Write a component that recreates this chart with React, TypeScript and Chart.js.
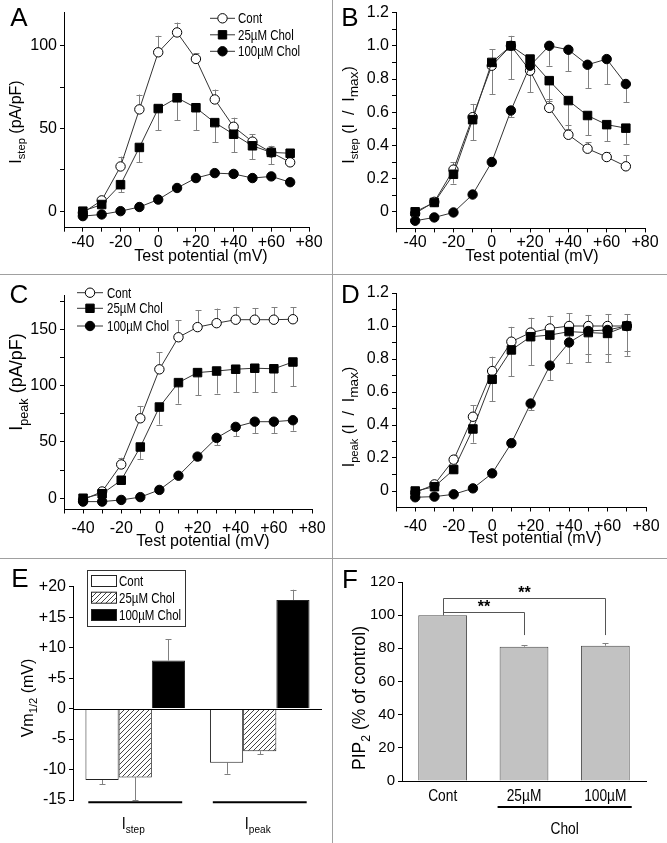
import React, { useEffect, useRef } from 'react';
import { Chart, registerables } from 'chart.js';
Chart.register(...registerables);

const FONT = '"Liberation Sans", Arial, Helvetica, sans-serif';
Chart.defaults.font.family = FONT;
const NARROW_SCALE = 0.82;

// ---------- data ----------
const potentials = [-40, -30, -20, -10, 0, 10, 20, 30, 40, 50, 60, 70];
const seriesNames = ['Cont', '25µM Chol', '100µM Chol'];
const xTickValues = [-50, -40, -30, -20, -10, 0, 10, 20, 30, 40, 50, 60, 70, 80];

// Panel A: Istep (pA/pF)
const aCont = [-1, 6.5, 27, 61.5, 96, 108, 92, 67.5, 51, 42, 35.5, 29.5];
const aContErr = [0, 1.5, 6, 9, 10, 6, 3.5, 6, 5.5, 4.5, 4, 0];
const a25 = [0, 4, 16, 38.5, 62, 68.5, 62.5, 53.5, 46.5, 39.5, 35.5, 35];
const a25Err = [0, 0, 4.5, 9, 13, 13.5, 13.5, 12, 11, 8, 7, 0];
const a100 = [-3, -2, 0, 2.5, 7, 14, 20, 23, 22.5, 20, 21, 17.5];
const a100Err = [0, 0, 0, 0, 0.5, 1, 1, 1, 1, 1, 1, 1];
const aYTicks = [0, 25, 50, 75, 100];

// Panel B: Istep (I / Imax)
const bCont = [-0.01, 0.06, 0.254, 0.57, 0.88, 1.0, 0.85, 0.626, 0.464, 0.38, 0.33, 0.274];
const bContErr = [0, 0.01, 0.046, 0.08, 0.1, 0.06, 0.05, 0.054, 0.056, 0.04, 0.03, 0.066];
const b25 = [0, 0.056, 0.226, 0.555, 0.9, 1.0, 0.92, 0.79, 0.67, 0.58, 0.525, 0.504];
const b25Err = [0, 0.01, 0.056, 0.125, 0.19, 0.2, 0.2, 0.12, 0.17, 0.12, 0.1, 0.095];
const b100 = [-0.054, -0.034, -0.004, 0.104, 0.3, 0.61, 0.88, 1.0, 0.976, 0.886, 0.92, 0.77];
const b100Err = [0, 0, 0, 0, 0.01, 0.04, 0.05, 0.12, 0.13, 0.14, 0.15, 0.11];
const normYTicks = [0, 0.1, 0.2, 0.3, 0.4, 0.5, 0.6, 0.7, 0.8, 0.9, 1.0, 1.1, 1.2];

// Panel C: Ipeak (pA/pF)
const cCont = [-1.5, 6, 30, 71, 114.5, 143, 152, 155.5, 158.6, 158.6, 158.6, 159];
const cContErr = [0, 1, 6, 11, 15, 15, 15, 13, 11.4, 10.4, 11, 10.6];
const c25 = [0, 4, 16, 45.5, 81, 102.7, 111.6, 113, 114.6, 115.5, 115, 121];
const c25Err = [0, 0, 2, 10.5, 15.5, 18.7, 20, 20, 20.6, 21.5, 21, 21.3];
const c100 = [-3, -3, -1.5, 1, 7.4, 20, 37, 53.6, 63.4, 68, 68, 69.3];
const c100Err = [0, 0, 0, 0, 1, 2, 3, 6.6, 8.4, 10, 10, 9.3];
const cYTicks = [0, 25, 50, 75, 100, 125, 150, 175];

// Panel D: Ipeak (I / Imax)
const dCont = [-0.01, 0.04, 0.19, 0.45, 0.727, 0.905, 0.96, 0.985, 1.0, 1.0, 1.0, 1.0];
const dContErr = [0, 0.01, 0.03, 0.07, 0.087, 0.09, 0.09, 0.077, 0.077, 0.067, 0.073, 0.073];
const d25 = [0, 0.026, 0.13, 0.376, 0.677, 0.855, 0.935, 0.945, 0.966, 0.96, 0.955, 1.0];
const d25Err = [0, 0.01, 0.02, 0.083, 0.132, 0.158, 0.171, 0.177, 0.188, 0.18, 0.175, 0.18];
const d100 = [-0.038, -0.034, -0.02, 0.016, 0.107, 0.29, 0.53, 0.76, 0.9, 0.97, 0.976, 1.0];
const d100Err = [0, 0, 0, 0, 0.01, 0.02, 0.04, 0.087, 0.126, 0.14, 0.146, 0.15];

// Panel E: Vm1/2 (mV)
const eGroups = ['Istep', 'Ipeak'];
const eCont = [-11.7, -8.9];
const eContErr = [0.7, 1.8];
const e25 = [-11.3, -7.0];
const e25Err = [3.7, 0.5];
const e100 = [7.9, 17.8];
const e100Err = [3.5, 1.7];
const eYTicks = [-15, -10, -5, 0, 5, 10, 15, 20];

// Panel F: PIP2 (% of control)
const fCats = ['Cont', '25µM', '100µM'];
const fVals = [100, 81, 81.6];
const fErr = [0, 1, 1.6];
const fYTicks = [0, 10, 20, 30, 40, 50, 60, 70, 80, 90, 100, 110, 120];
const fSig = [{ from: 0, to: 2, level: 110.5, drop: 88, label: '**' }, { from: 0, to: 1, level: 102, drop: 88, label: '**' }];

// ---------- helpers ----------
type Seg = { t: string; sub?: boolean; k?: number };

function drawRich(
  ctx: CanvasRenderingContext2D, segs: Seg[], x: number, y: number, size: number,
  align: 'left' | 'center' | 'right' = 'center', rot = false, weight = 'normal', hscale = 1, color = '#000'
) {
  ctx.save();
  const segSize = (s: Seg) => (s.sub ? size * (s.k || 0.7) : size);
  const widths = segs.map((s) => {
    ctx.font = `${weight} ${segSize(s)}px ${FONT}`;
    return ctx.measureText(s.t).width;
  });
  const total = widths.reduce((p, q) => p + q, 0);
  ctx.translate(x, y);
  if (rot) ctx.rotate(-Math.PI / 2);
  ctx.scale(hscale, 1);
  let cx = align === 'center' ? -total / 2 : align === 'right' ? -total : 0;
  const base = size * 0.36;
  ctx.fillStyle = color;
  ctx.textBaseline = 'alphabetic';
  ctx.textAlign = 'left';
  segs.forEach((s, i) => {
    ctx.font = `${weight} ${segSize(s)}px ${FONT}`;
    ctx.fillText(s.t, cx, base + (s.sub ? size * 0.28 : 0));
    cx += widths[i];
  });
  ctx.restore();
}

function drawMarker(ctx: CanvasRenderingContext2D, x: number, y: number, style: string, fill: string) {
  ctx.save();
  ctx.fillStyle = fill;
  ctx.strokeStyle = '#000';
  ctx.lineWidth = 1;
  ctx.beginPath();
  if (style === 'rect') ctx.rect(x - 4.2, y - 4.2, 8.4, 8.4);
  else ctx.arc(x, y, 4.7, 0, Math.PI * 2);
  ctx.fill();
  ctx.stroke();
  ctx.restore();
}

const markerStyles: [string, string][] = [['circle', '#fff'], ['rect', '#000'], ['circle', '#000']];

function drawLineLegend(ctx: CanvasRenderingContext2D, x1: number, x2: number, tx: number, ys: number[]) {
  ys.forEach((y, i) => {
    ctx.save();
    ctx.strokeStyle = '#333';
    ctx.lineWidth = 1;
    ctx.beginPath();
    ctx.moveTo(x1, y);
    ctx.lineTo(x2, y);
    ctx.stroke();
    ctx.restore();
    drawMarker(ctx, (x1 + x2) / 2, y, markerStyles[i][0], markerStyles[i][1]);
    drawRich(ctx, [{ t: seriesNames[i] }], tx, y, 14, 'left', false, 'normal', NARROW_SCALE);
  });
}

function errorBarPlugin(errs: number[][], dirs: (number | 'sign')[]) {
  return {
    id: 'errbars',
    beforeDatasetsDraw(chart: any) {
      const ctx = chart.ctx as CanvasRenderingContext2D;
      const ys = chart.scales.y;
      ctx.save();
      ctx.strokeStyle = '#808080';
      ctx.lineWidth = 1;
      errs.forEach((err, di) => {
        const meta = chart.getDatasetMeta(di);
        const ds = chart.data.datasets[di];
        meta.data.forEach((el: any, i: number) => {
          const e = err[i];
          if (!e) return;
          const raw = ds.data[i];
          const v = typeof raw === 'number' ? raw : raw.y;
          const d = dirs[di] === 'sign' ? (v >= 0 ? 1 : -1) : (dirs[di] as number);
          const yEnd = ys.getPixelForValue(v + d * e);
          const x = Math.round(el.x) + 0.5;
          ctx.beginPath();
          ctx.moveTo(x, el.y);
          ctx.lineTo(x, yEnd);
          ctx.moveTo(x - 3, Math.round(yEnd) + 0.5);
          ctx.lineTo(x + 3, Math.round(yEnd) + 0.5);
          ctx.stroke();
        });
      });
      ctx.restore();
    },
  };
}

function decor(fn: (chart: any, ctx: CanvasRenderingContext2D) => void) {
  return { id: 'decor', afterDraw(chart: any) { fn(chart, chart.ctx); } };
}

function lineDataset(i: number, ys: number[]) {
  const [style, fill] = markerStyles[i];
  return {
    label: seriesNames[i],
    data: potentials.map((x, k) => ({ x, y: ys[k] })),
    borderColor: '#333',
    borderWidth: 1,
    pointStyle: style,
    pointRadius: style === 'rect' ? 6 : 4.7,
    pointBackgroundColor: fill,
    pointBorderColor: '#000',
    pointBorderWidth: 1,
    tension: 0,
    fill: false,
    order: i === 1 ? 0 : i === 2 ? 1 : 2,
  };
}

const tickFont = (size = 16) => ({ size, family: FONT });

function gridOpts() {
  return { drawOnChartArea: false, drawTicks: true, tickLength: 4, tickColor: '#000', tickWidth: 1 };
}

const fmtX = (v: number) => (v % 20 === 0 ? (v > 0 ? '+' + v : String(v)) : '');
const fmt50 = (v: number) => (v % 50 === 0 ? String(v) : '');
const fmtNorm = (v: number) => {
  const r = Math.round(v * 10);
  return r % 2 === 0 ? (r === 0 ? '0' : (r / 10).toFixed(1)) : '';
};

function lineConfig(p: {
  datasets: any[]; errs: number[][]; yMin: number; yMax: number; yTicks: number[]; yFmt: (v: number) => string;
  pad: any; yWidth: number; xHeight: number; xPad: number; draw: (c: any, ctx: CanvasRenderingContext2D) => void;
}) {
  return {
    type: 'line',
    data: { datasets: p.datasets },
    options: {
      animation: false,
      responsive: false,
      events: [],
      layout: { padding: p.pad },
      plugins: { legend: { display: false }, tooltip: { enabled: false } },
      scales: {
        x: {
          type: 'linear', min: -50, max: 80,
          afterBuildTicks: (s: any) => { s.ticks = xTickValues.map((v) => ({ value: v })); },
          afterFit: (s: any) => { s.height = p.xHeight; },
          grid: gridOpts(),
          border: { display: true, color: '#000', width: 1 },
          ticks: { color: '#000', font: tickFont(), padding: p.xPad, autoSkip: false, maxRotation: 0, minRotation: 0, callback: (v: any) => fmtX(Number(v)) },
        },
        y: {
          type: 'linear', min: p.yMin, max: p.yMax,
          afterBuildTicks: (s: any) => { s.ticks = p.yTicks.map((v) => ({ value: v })); },
          afterFit: (s: any) => { s.width = p.yWidth; },
          grid: gridOpts(),
          border: { display: true, color: '#000', width: 1 },
          ticks: { color: '#000', font: tickFont(), padding: 3, autoSkip: false, callback: (v: any) => p.yFmt(Number(v)) },
        },
      },
    },
    plugins: [errorBarPlugin(p.errs, [1, -1, -1]), decor(p.draw)],
  };
}

const xTitle = [{ t: 'Test potential (mV)' }];
const normTitle = (sub: string): Seg[] => [
  { t: 'I' }, { t: sub, sub: true }, { t: ' (I  /  I' }, { t: 'max', sub: true, k: 0.85 }, { t: ')' },
];

function buildA() {
  return lineConfig({
    datasets: [lineDataset(0, aCont), lineDataset(1, a25), lineDataset(2, a100)],
    errs: [aContErr, a25Err, a100Err],
    yMin: -10, yMax: 120, yTicks: aYTicks, yFmt: fmt50,
    pad: { left: 0, top: 10.6, right: 22, bottom: 0 }, yWidth: 64, xHeight: 45.3, xPad: 1,
    draw: (c, ctx) => {
      drawRich(ctx, [{ t: 'A' }], 19, 17, 26);
      drawRich(ctx, xTitle, 201, 255, 16);
      drawRich(ctx, [{ t: 'I' }, { t: 'step', sub: true }, { t: ' (pA/pF)' }], 15, 122, 16, 'center', true);
      drawLineLegend(ctx, 210, 235, 238, [18.3, 34.8, 51.3]);
    },
  });
}

function buildB() {
  return lineConfig({
    datasets: [lineDataset(0, bCont), lineDataset(1, b25), lineDataset(2, b100)],
    errs: [bContErr, b25Err, b100Err],
    yMin: -0.1, yMax: 1.2, yTicks: normYTicks, yFmt: fmtNorm,
    pad: { left: 0, top: 11.7, right: 22, bottom: 0 }, yWidth: 63, xHeight: 44.6, xPad: 1,
    draw: (c, ctx) => {
      drawRich(ctx, [{ t: 'B' }], 17, 17, 26);
      drawRich(ctx, xTitle, 199, 255, 16);
      drawRich(ctx, normTitle('step'), 15, 115, 16, 'center', true);
    },
  });
}

function buildC() {
  return lineConfig({
    datasets: [lineDataset(0, cCont), lineDataset(1, c25), lineDataset(2, c100)],
    errs: [cContErr, c25Err, c100Err],
    yMin: -10, yMax: 180, yTicks: cYTicks, yFmt: fmt50,
    pad: { left: 0, top: 20.6, right: 19, bottom: 0 }, yWidth: 64, xHeight: 48.5, xPad: 5,
    draw: (c, ctx) => {
      drawRich(ctx, [{ t: 'C' }], 19, 19, 26);
      drawRich(ctx, xTitle, 203, 265, 16);
      drawRich(ctx, [{ t: 'I' }, { t: 'peak', sub: true }, { t: ' (pA/pF)' }], 16, 107, 18, 'center', true);
      drawLineLegend(ctx, 77, 103, 107, [17.7, 33.3, 51]);
    },
  });
}

function buildD() {
  return lineConfig({
    datasets: [lineDataset(0, dCont), lineDataset(1, d25), lineDataset(2, d100)],
    errs: [dContErr, d25Err, d100Err],
    yMin: -0.1, yMax: 1.2, yTicks: normYTicks, yFmt: fmtNorm,
    pad: { left: 0, top: 18, right: 21, bottom: 0 }, yWidth: 63, xHeight: 50.5, xPad: 5,
    draw: (c, ctx) => {
      drawRich(ctx, [{ t: 'D' }], 17.5, 19, 26);
      drawRich(ctx, xTitle, 202, 262, 16);
      drawRich(ctx, normTitle('peak'), 15, 142, 16, 'center', true);
    },
  });
}

function makeHatch(): CanvasPattern | string {
  const c = document.createElement('canvas');
  c.width = 5; c.height = 5;
  const g = c.getContext('2d');
  if (!g) return '#bbb';
  g.fillStyle = '#fff';
  g.fillRect(0, 0, 5, 5);
  g.strokeStyle = '#444';
  g.lineWidth = 1;
  g.beginPath();
  g.moveTo(0, 5); g.lineTo(5, 0);
  g.moveTo(-1, 1); g.lineTo(1, -1);
  g.moveTo(4, 6); g.lineTo(6, 4);
  g.stroke();
  return g.createPattern(c, 'repeat') || '#bbb';
}

function buildE() {
  const hatch = makeHatch();
  const fills = ['#fff', hatch, '#000'];
  return {
    type: 'bar',
    data: {
      labels: eGroups,
      datasets: [eCont, e25, e100].map((d, i) => ({
        label: seriesNames[i], data: d, backgroundColor: fills[i], borderColor: '#222', borderWidth: 1,
        categoryPercentage: 0.8, barPercentage: 1.0, borderSkipped: 'start',
      })),
    },
    options: {
      animation: false, responsive: false, events: [],
      layout: { padding: { left: 0, top: 27.7, right: 9, bottom: 43 } },
      plugins: { legend: { display: false }, tooltip: { enabled: false } },
      scales: {
        x: { display: false },
        y: {
          type: 'linear', min: -15, max: 20,
          afterBuildTicks: (s: any) => { s.ticks = eYTicks.map((v) => ({ value: v })); },
          afterFit: (s: any) => { s.width = 73; },
          grid: gridOpts(),
          border: { display: true, color: '#000', width: 1 },
          ticks: { color: '#000', font: tickFont(), padding: 3, callback: (v: any) => (Number(v) > 0 ? '+' + v : String(v)) },
        },
      },
    },
    plugins: [
      errorBarPlugin([eContErr, e25Err, e100Err], ['sign', 'sign', 'sign']),
      decor((c, ctx) => {
        const a = c.chartArea;
        const ys = c.scales.y;
        const xs = c.scales.x;
        const y0 = Math.round(ys.getPixelForValue(0)) + 0.5;
        ctx.save();
        ctx.strokeStyle = '#000';
        ctx.lineWidth = 1;
        ctx.beginPath();
        ctx.moveTo(a.left, y0);
        ctx.lineTo(a.right, y0);
        ctx.stroke();
        // group underlines
        const catW = (a.right - a.left) / eGroups.length;
        ctx.lineWidth = 2;
        eGroups.forEach((g, i) => {
          const cx = xs.getPixelForValue(i);
          ctx.beginPath();
          ctx.moveTo(cx - 0.377 * catW, 243.3);
          ctx.lineTo(cx + 0.377 * catW, 243.3);
          ctx.stroke();
          drawRich(ctx, [{ t: 'I' }, { t: g.slice(1), sub: true }], cx - 2, 264, 16, 'center', false, 'normal', 0.9);
        });
        // legend box
        ctx.lineWidth = 1;
        ctx.strokeStyle = '#333';
        ctx.strokeRect(87.5, 11.5, 98, 56);
        const rows = [22, 38.7, 56];
        rows.forEach((ry, i) => {
          ctx.fillStyle = fills[i] as any;
          ctx.fillRect(91, ry - 5.5, 25, 11);
          ctx.strokeStyle = '#222';
          ctx.strokeRect(91.5, ry - 5.5, 25, 11);
          drawRich(ctx, [{ t: seriesNames[i] }], 119, ry, 14, 'left', false, 'normal', NARROW_SCALE);
        });
        ctx.restore();
        drawRich(ctx, [{ t: 'E' }], 20, 18.5, 26);
        drawRich(ctx, [{ t: 'Vm' }, { t: '1/2', sub: true }, { t: ' (mV)' }], 27, 139, 16, 'center', true);
      }),
    ],
  };
}

function buildF() {
  return {
    type: 'bar',
    data: {
      labels: fCats,
      datasets: [{
        label: 'PIP2', data: fVals, backgroundColor: '#c2c2c2', borderColor: '#4a4a4a', borderWidth: 1,
        categoryPercentage: 1.0, barPercentage: 0.6,
      }],
    },
    options: {
      animation: false, responsive: false, events: [],
      layout: { padding: { left: 0, top: 23, right: 21, bottom: 0 } },
      plugins: { legend: { display: false }, tooltip: { enabled: false } },
      scales: {
        x: {
          afterFit: (s: any) => { s.height = 62; },
          grid: { drawOnChartArea: false, drawTicks: true, tickLength: 4, tickColor: 'rgba(0,0,0,0)' },
          border: { display: true, color: '#000', width: 1 },
          ticks: { color: '#000', font: tickFont(15), padding: 2, callback: () => '' },
        },
        y: {
          type: 'linear', min: 0, max: 120,
          afterBuildTicks: (s: any) => { s.ticks = fYTicks.map((v) => ({ value: v })); },
          afterFit: (s: any) => { s.width = 69; },
          grid: gridOpts(),
          border: { display: true, color: '#000', width: 1 },
          ticks: { color: '#000', font: tickFont(15), padding: 3, callback: (v: any) => (Number(v) % 20 === 0 ? String(v) : '') },
        },
      },
    },
    plugins: [
      errorBarPlugin([fErr], [1]),
      decor((c, ctx) => {
        const xs = c.scales.x;
        const ys = c.scales.y;
        ctx.save();
        ctx.strokeStyle = '#555';
        ctx.lineWidth = 1;
        fSig.forEach((s) => {
          const x1 = Math.round(xs.getPixelForValue(s.from)) + 0.5;
          const x2 = Math.round(xs.getPixelForValue(s.to)) + 0.5;
          const yl = Math.round(ys.getPixelForValue(s.level)) + 0.5;
          ctx.beginPath();
          ctx.moveTo(x1, ys.getPixelForValue(fVals[s.from]));
          ctx.lineTo(x1, yl);
          ctx.lineTo(x2, yl);
          ctx.lineTo(x2, ys.getPixelForValue(s.drop));
          ctx.stroke();
          drawRich(ctx, [{ t: s.label }], (x1 + x2) / 2, yl - 6.5, 16, 'center', false, 'bold');
        });
        // category labels
        fCats.forEach((cat, i) => {
          drawRich(ctx, [{ t: cat }], xs.getPixelForValue(i), 236, 16, 'center', false, 'normal', 0.86);
        });
        // Chol underline
        const meta = c.getDatasetMeta(0);
        const b1: any = meta.data[1];
        const b2: any = meta.data[2];
        const l = b1.x - b1.width / 2 - 2;
        const r = b2.x + b2.width / 2 + 2;
        ctx.strokeStyle = '#000';
        ctx.lineWidth = 2;
        ctx.beginPath();
        ctx.moveTo(l, 248);
        ctx.lineTo(r, 248);
        ctx.stroke();
        ctx.restore();
        drawRich(ctx, [{ t: 'Chol' }], (l + r) / 2, 269, 16, 'center', false, 'normal', 0.86);
        drawRich(ctx, [{ t: 'F' }], 17, 20, 26);
        drawRich(ctx, [{ t: 'PIP' }, { t: '2', sub: true }, { t: ' (% of control)' }], 26, 139, 17.5, 'center', true);
      }),
    ],
  };
}

type Box = { x: number; y: number; w: number; h: number };

function Panel({ box, build }: { box: Box; build: () => any }) {
  const ref = useRef<HTMLCanvasElement>(null);
  useEffect(() => {
    if (!ref.current) return;
    const chart = new Chart(ref.current, build());
    return () => chart.destroy();
  }, []);
  return (
    <canvas
      ref={ref}
      width={box.w}
      height={box.h}
      style={{ position: 'absolute', left: box.x, top: box.y, width: box.w, height: box.h }}
    />
  );
}

const boxes: Record<string, Box> = {
  A: { x: 0, y: 0, w: 331, h: 273 },
  B: { x: 333, y: 0, w: 334, h: 273 },
  C: { x: 0, y: 275, w: 331, h: 283 },
  D: { x: 333, y: 275, w: 334, h: 283 },
  E: { x: 0, y: 559, w: 331, h: 284 },
  F: { x: 333, y: 559, w: 334, h: 284 },
};

export default function App() {
  useEffect(() => {
    document.body.style.margin = '0';
  }, []);
  const sep = '#a0a0a0';
  return (
    <div style={{ position: 'absolute', left: 0, top: 0, width: 667, height: 843, background: '#fff', overflow: 'hidden' }}>
      <Panel box={boxes.A} build={buildA} />
      <Panel box={boxes.B} build={buildB} />
      <Panel box={boxes.C} build={buildC} />
      <Panel box={boxes.D} build={buildD} />
      <Panel box={boxes.E} build={buildE} />
      <Panel box={boxes.F} build={buildF} />
      <div style={{ position: 'absolute', left: 0, top: 274, width: 667, height: 1, background: sep }} />
      <div style={{ position: 'absolute', left: 0, top: 558, width: 667, height: 1, background: sep }} />
      <div style={{ position: 'absolute', left: 332, top: 0, width: 1, height: 843, background: sep }} />
    </div>
  );
}
